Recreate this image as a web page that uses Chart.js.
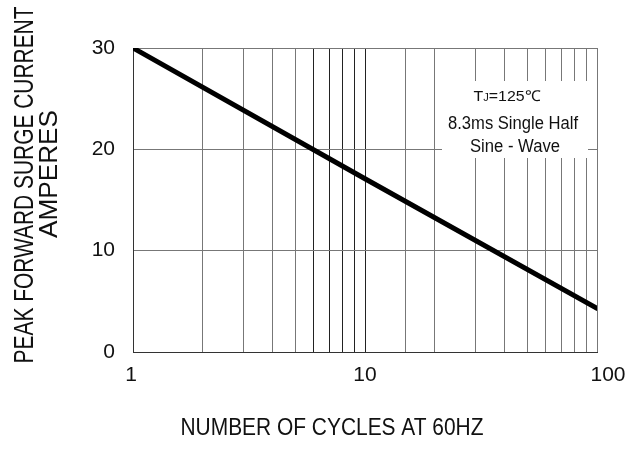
<!DOCTYPE html>
<html>
<head>
<meta charset="utf-8">
<script src="https://cdn.jsdelivr.net/npm/chart.js@4/dist/chart.umd.min.js"></script>
<style>
  html, body { margin: 0; padding: 0; background: #fff; }
  #wrap { width: 631px; height: 458px; }
</style>
</head>
<body>
<div id="wrap"><canvas id="surgeChart" width="631" height="458"></canvas></div>
<script>
// values
const cycles = [1, 10, 100];
const surgeAmps = [30, 17.1, 4.3];
const xTickLabels = [1, 10, 100];
const yTicks = [0, 10, 20, 30];
const yTitleLines = ['PEAK FORWARD SURGE CURRENT', 'AMPERES'];
const xTitle = 'NUMBER OF CYCLES AT 60HZ';
const noteLines = ['=125℃', '8.3ms Single Half', 'Sine - Wave'];

const ctx = document.getElementById('surgeChart').getContext('2d');

// draw a row of [text, font] pieces squeezed to a given width, centred on x,y
function fitPieces(c, pieces, x, y, width, angle) {
  c.save();
  let total = 0;
  const widths = pieces.map(p => { c.font = p[1]; const w = c.measureText(p[0]).width; total += w; return w; });
  c.translate(x, y);
  if (angle) c.rotate(angle);
  c.scale(width / total, 1);
  c.textAlign = 'left';
  c.textBaseline = 'alphabetic';
  c.fillStyle = '#111';
  let cx = -total / 2;
  pieces.forEach((p, i) => {
    c.font = p[1];
    c.fillText(p[0], cx, p[2] || 0);
    cx += widths[i];
  });
  c.restore();
}

const labelsPlugin = {
  id: 'labelsPlugin',
  beforeDatasetsDraw(chart) {
    const c = chart.ctx;
    // white note box sitting on top of the grid
    c.save();
    c.fillStyle = '#fff';
    c.fillRect(442, 81, 146, 77);
    c.restore();
    fitPieces(c, [['T', '15px Arial'], ['J', '10.5px Arial'], [noteLines[0], '15px Arial']], 507, 101, 67);
    fitPieces(c, [[noteLines[1], '17.5px Arial']], 513, 129, 130);
    fitPieces(c, [[noteLines[2], '17.5px Arial']], 515, 152, 90);
  },
  afterDraw(chart) {
    const c = chart.ctx;
    const xs = chart.scales.x;
    // x tick labels (the last one sits a little right of its gridline)
    c.save();
    c.font = '21px Arial';
    c.fillStyle = '#111';
    c.textAlign = 'center';
    c.textBaseline = 'middle';
    xTickLabels.forEach((v, i) => {
      const shift = i === xTickLabels.length - 1 ? 11 : (i === 0 ? -2 : 0);
      c.fillText(String(v), xs.getPixelForValue(v) + shift, 375);
    });
    c.restore();
    fitPieces(c, [[yTitleLines[0], '28px Arial']], 33, 185, 357, -Math.PI / 2);
    fitPieces(c, [[yTitleLines[1], '25px Arial']], 57, 174, 128, -Math.PI / 2);
    fitPieces(c, [[xTitle, '24px Arial']], 332, 435, 303);
  }
};

const surgeChart = new Chart(ctx, {
  type: 'line',
  data: {
    datasets: [{
      data: cycles.map((c, i) => ({ x: c, y: surgeAmps[i] })),
      borderColor: '#000',
      borderWidth: 5,
      borderCapStyle: 'round',
      pointRadius: 0,
      tension: 0
    }]
  },
  options: {
    responsive: false,
    animation: false,
    layout: { padding: { top: 48, right: 34, left: 0, bottom: 0 } },
    plugins: {
      legend: { display: false },
      tooltip: { enabled: false }
    },
    scales: {
      x: {
        type: 'logarithmic',
        min: 1,
        max: 100,
        afterFit(scale) { scale.height = 106; },
        border: { color: '#333', width: 1 },
        grid: {
          // the 6..10 lines print darker on the original sheet
          color: (g) => (g.tick && g.tick.value >= 6 && g.tick.value <= 10) ? '#222' : '#777',
          lineWidth: 1,
          tickLength: 0
        },
        ticks: {
          display: true,
          color: 'rgba(0,0,0,0)',
          autoSkip: false,
          maxRotation: 0,
          callback: () => ''
        }
      },
      y: {
        min: 0,
        max: 30,
        afterFit(scale) { scale.width = 133; },
        afterBuildTicks(scale) { scale.ticks = yTicks.map(v => ({ value: v })); },
        border: { color: '#333', width: 1 },
        grid: { color: '#777', lineWidth: 1, tickLength: 0 },
        ticks: {
          padding: 18,
          color: '#111',
          font: { family: 'Arial', size: 21 }
        }
      }
    }
  },
  plugins: [labelsPlugin]
});
</script>
</body>
</html>
